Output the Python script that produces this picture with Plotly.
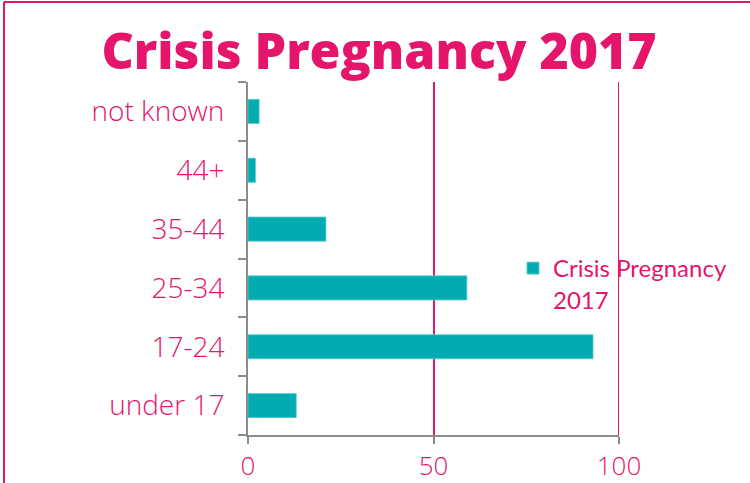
import plotly.graph_objects as go

categories = ["under 17", "17-24", "25-34", "35-44", "44+", "not known"]
values = [13, 93, 59, 21, 2, 3]
x_ticks = [0, 50, 100]
series_name = "Crisis Pregnancy<br>2017"
title_text = "Crisis Pregnancy 2017"

PINK = "#E5156C"
TEAL = "#01ABB2"
GRAY = "#8C8C8C"

W, H = 750, 483
L, R, T, B = 248, 131, 82, 48
pw, ph = W - L - R, H - T - B

fig = go.Figure()
fig.add_trace(go.Bar(
    x=values, y=categories, orientation="h", name=series_name,
    marker=dict(color=TEAL, line=dict(color="#5CCBD0", width=0.8)),
    showlegend=True,
))

shapes = [
    dict(type="line", xref="paper", yref="paper",
         x0=(4 - L) / pw, x1=(W - L) / pw, y0=(H - B - 2) / ph, y1=(H - B - 2) / ph,
         line=dict(color=PINK, width=2)),
    dict(type="line", xref="paper", yref="paper",
         x0=(4 - L) / pw, x1=(4 - L) / pw, y0=(H - B - 2) / ph, y1=-B / ph,
         line=dict(color=PINK, width=2)),
    # gridline at the right end of the range (plotly skips it at the edge)
    dict(type="line", xref="x", yref="paper", x0=x_ticks[-1], x1=x_ticks[-1], y0=0, y1=1,
         line=dict(color=PINK, width=2), layer="below"),
]

fig.update_layout(
    width=W, height=H,
    margin=dict(l=L, r=R, t=T, b=B, autoexpand=False),
    paper_bgcolor="white", plot_bgcolor="white",
    bargap=0.59,
    shapes=shapes,
    title=dict(text=title_text, x=379 / W, xanchor="center", y=1 - 51 / H, yanchor="middle",
               font=dict(family="Open Sans", size=50, color=PINK, weight=800)),
    xaxis=dict(range=[0, 100], tickvals=x_ticks, showgrid=True, gridcolor=PINK, gridwidth=2,
               zeroline=False, showline=True, linecolor=GRAY, linewidth=2,
               ticks="outside", tickcolor=GRAY, ticklen=7, tickwidth=2,
               tickfont=dict(family="Open Sans", size=26, color=PINK, weight=300),
               fixedrange=True),
    yaxis=dict(categoryorder="array", categoryarray=categories, showline=True,
               linecolor=GRAY, linewidth=2, ticks="outside", tickson="boundaries",
               tickcolor=GRAY, ticklen=8, tickwidth=2, showgrid=False,
               ticklabelstandoff=16,
               tickfont=dict(family="Open Sans", size=28, color=PINK, weight=300)),
    legend=dict(x=(513 - L) / pw, y=(H - B - 246) / ph, xanchor="left", yanchor="top",
                bgcolor="rgba(0,0,0,0)", valign="top",
                font=dict(family="Lato", size=24, color=PINK)),
)

fig.write_html("out.html", config={"displayModeBar": False},
               post_script="document.body.style.margin='0px';")
